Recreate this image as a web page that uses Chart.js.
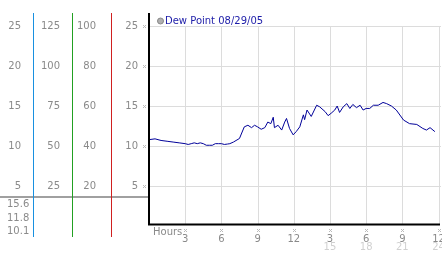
<!DOCTYPE html>
<html>
<head>
<meta charset="utf-8">
<script src="https://cdn.jsdelivr.net/npm/chart.js@4"></script>
<style>
  html, body { margin: 0; padding: 0; background: #fff; }
  #wrap { width: 442px; height: 253px; }
</style>
</head>
<body>
<div id="wrap"><canvas id="dewChart" width="442" height="253"></canvas></div>
<script>
// dew point readings, hours since midnight
const hours = [
  0, 0.5, 1, 1.5, 2, 2.5, 3, 3.25, 3.5, 3.75, 4, 4.25, 4.5, 4.75, 5, 5.25, 5.5, 5.75,
  6, 6.25, 6.5, 6.7, 7, 7.5, 7.9, 8.2, 8.5, 8.75, 9, 9.3, 9.6, 9.85,
  10.1, 10.3, 10.4, 10.7, 11, 11.25, 11.4, 11.65, 11.95, 12.2, 12.5, 12.8, 12.9,
  13.1, 13.45, 13.9, 14.15, 14.6, 14.85, 15.1, 15.4, 15.6, 15.8, 16.1, 16.4,
  16.65, 16.9, 17.2, 17.5, 17.75, 18, 18.3, 18.6, 19, 19.4, 19.7, 20.1, 20.5,
  21.1, 21.6, 22.2, 22.7, 23, 23.3, 23.7
];
const dewPoint = [
  10.8, 10.9, 10.7, 10.6, 10.5, 10.4, 10.3, 10.2, 10.3, 10.4, 10.3, 10.4, 10.3, 10.1, 10.1, 10.1, 10.3, 10.3,
  10.3, 10.2, 10.25, 10.3, 10.5, 10.95, 12.4, 12.6, 12.3, 12.6, 12.4, 12.1, 12.3, 13.0,
  12.8, 13.6, 12.3, 12.6, 12.0, 13.0, 13.45, 12.2, 11.4, 11.8, 12.4, 13.9, 13.3,
  14.5, 13.7, 15.1, 14.9, 14.3, 13.8, 14.1, 14.5, 15.0, 14.2, 14.9, 15.3,
  14.7, 15.2, 14.8, 15.1, 14.5, 14.7, 14.7, 15.1, 15.1, 15.45, 15.3, 15.0, 14.5,
  13.25, 12.8, 12.7, 12.2, 12.0, 12.3, 11.8
];

const dewTicks = [25, 20, 15, 10, 5];
const col2Ticks = ["125", "100", "75", "50", "25"];
const col3Ticks = ["100", "80", "60", "40", "20"];
const hourTicks = [3, 6, 9, 12, 15, 18, 21, 24];
const hourLabels = ["3", "6", "9", "12", "3", "6", "9", "12"];
const hourLabels2 = ["", "", "", "", "15", "18", "21", "24"];
const statLabels = ["15.6", "11.8", "10.1"];
const legendText = "Dew Point 08/29/05";

const FONT = "10px 'DejaVu Sans', Verdana, sans-serif";
const TEXT = "#8a8a8a";

function mark(ctx, x, y) {
  // tiny hatched tick mark
  ctx.fillStyle = "#bbb";
  for (let i = 0; i < 3; i++) {
    for (let j = 0; j < 3; j++) {
      if ((i + j) % 2 === 0) ctx.fillRect(Math.round(x) - 1 + i, Math.round(y) - 1 + j, 1, 1);
    }
  }
}

const decor = {
  id: "decor",
  beforeDatasetsDraw(chart) {
    const { ctx, chartArea: a, scales: { x, y } } = chart;
    ctx.save();
    ctx.strokeStyle = "#dcdcdc";
    ctx.lineWidth = 1;
    dewTicks.forEach(v => {
      const py = Math.round(y.getPixelForValue(v)) + 0.5;
      ctx.beginPath(); ctx.moveTo(a.left, py); ctx.lineTo(441, py); ctx.stroke();
    });
    hourTicks.forEach(h => {
      const px = Math.round(x.getPixelForValue(h)) + 0.5;
      ctx.beginPath(); ctx.moveTo(px, y.getPixelForValue(25)); ctx.lineTo(px, a.bottom); ctx.stroke();
    });
    ctx.restore();
  },
  afterDraw(chart) {
    const { ctx, chartArea: a, scales: { x, y } } = chart;
    ctx.save();
    ctx.font = FONT;
    ctx.textBaseline = "middle";

    // left panel colored rules
    ctx.fillStyle = "#a0a0a0";
    ctx.fillRect(0, 196, 149, 2);
    ctx.fillStyle = "#1890e0";
    ctx.fillRect(33, 13, 1, 224);
    ctx.fillStyle = "#22a022";
    ctx.fillRect(72, 13, 1, 224);
    ctx.fillStyle = "#d02020";
    ctx.fillRect(111, 13, 1, 224);

    // left panel scales
    ctx.textAlign = "right";
    dewTicks.forEach((v, i) => {
      const py = y.getPixelForValue(v);
      ctx.fillStyle = TEXT;
      ctx.fillText(String(v), 21, py);
      ctx.fillText(col2Ticks[i], 60, py);
      ctx.fillText(col3Ticks[i], 96, py);
      ctx.fillText(String(v), 138, py);
      mark(ctx, 144, py);
    });
    ctx.fillStyle = TEXT;
    ctx.textAlign = "left";
    statLabels.forEach((s, i) => ctx.fillText(s, 7, 204.5 + i * 13.5));

    // axes
    ctx.strokeStyle = "#000";
    ctx.lineWidth = 2;
    ctx.beginPath();
    ctx.moveTo(a.left, 13); ctx.lineTo(a.left, a.bottom); ctx.lineTo(440, a.bottom);
    ctx.stroke();

    // x labels
    ctx.fillStyle = TEXT;
    ctx.fillText("Hours", 153, 232);
    ctx.textAlign = "center";
    hourTicks.forEach((h, i) => {
      const px = x.getPixelForValue(h);
      mark(ctx, px, 230);
      ctx.fillStyle = TEXT;
      ctx.fillText(hourLabels[i], px, 239);
      if (hourLabels2[i]) {
        ctx.fillStyle = "#d0d0d0";
        ctx.fillText(hourLabels2[i], px, 247.5);
      }
    });

    // legend
    ctx.fillStyle = "#b0b0b0";
    ctx.beginPath(); ctx.arc(160.5, 21, 3, 0, Math.PI * 2); ctx.fill();
    ctx.strokeStyle = "#888"; ctx.lineWidth = 1; ctx.stroke();
    ctx.fillStyle = "#1c1ca8";
    ctx.textAlign = "left";
    ctx.fillText(legendText, 165, 21);
    ctx.restore();
  }
};

new Chart(document.getElementById("dewChart"), {
  type: "line",
  data: {
    datasets: [{
      label: legendText,
      data: hours.map((h, i) => ({ x: h, y: dewPoint[i] })),
      borderColor: "#000099",
      borderWidth: 1,
      pointRadius: 0,
      tension: 0,
      fill: false
    }]
  },
  options: {
    responsive: false,
    animation: false,
    events: [],
    layout: { padding: { left: 149, right: 3.5, top: 26, bottom: 28.5 } },
    plugins: { legend: { display: false }, tooltip: { enabled: false } },
    scales: {
      x: { type: "linear", min: 0, max: 24, display: false },
      y: { min: 0.2, max: 25, display: false }
    }
  },
  plugins: [decor]
});
</script>
</body>
</html>
